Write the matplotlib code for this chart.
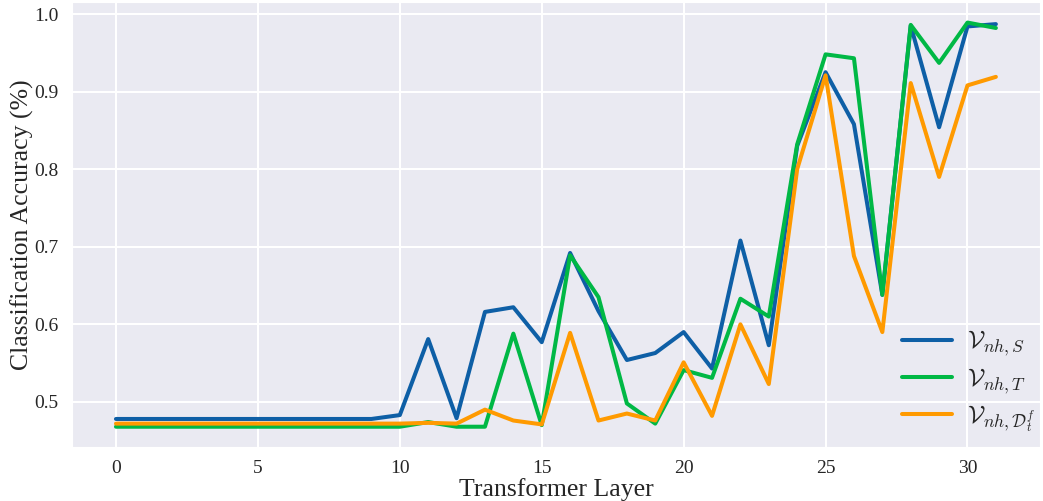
import matplotlib
matplotlib.use('Agg')
import matplotlib.pyplot as plt
import seaborn as sns
import numpy as np

layers = np.arange(32)
acc_s = [0.478] * 10 + [0.483, 0.581, 0.479, 0.616, 0.622, 0.577, 0.692, 0.617, 0.554, 0.563,
                        0.590, 0.543, 0.708, 0.573, 0.830, 0.925, 0.858, 0.638, 0.985, 0.854,
                        0.984, 0.987]
acc_t = [0.468] * 11 + [0.474, 0.468, 0.468, 0.588, 0.470, 0.689, 0.635, 0.498, 0.472,
                        0.541, 0.531, 0.633, 0.610, 0.832, 0.948, 0.943, 0.638, 0.986, 0.937,
                        0.989, 0.982]
acc_d = [0.472] * 11 + [0.473, 0.472, 0.490, 0.476, 0.471, 0.589, 0.476, 0.485, 0.476,
                        0.551, 0.482, 0.600, 0.523, 0.800, 0.921, 0.688, 0.590, 0.911, 0.790,
                        0.908, 0.919]
labels = [r'$\mathcal{V}_{nh,S}$', r'$\mathcal{V}_{nh,T}$', r'$\mathcal{V}_{nh,\mathcal{D}_t^f}$']
colors = ['#0e5fa6', '#00b845', '#ff9a00']

sns.set_style('darkgrid')
plt.rcParams['font.family'] = ['Liberation Serif', 'DejaVu Serif']
plt.rcParams['mathtext.fontset'] = 'cm'
plt.rcParams['grid.linewidth'] = 1.5

fig = plt.figure(figsize=(10.43, 5.01), dpi=100)
ax = fig.add_subplot()
for ys, lab, c in zip([acc_s, acc_t, acc_d], labels, colors):
    ax.plot(layers, ys, color=c, lw=2.9, label=lab)

ax.set_xlabel('Transformer Layer', fontsize=18.5, labelpad=1)
ax.set_ylabel('Classification Accuracy (%)', fontsize=18.5, labelpad=0)
ax.tick_params(labelsize=14, pad=6)
ax.set_xticks([0, 5, 10, 15, 20, 25, 30])
ax.set_ylim(0.442, 1.0155)
ax.legend(loc='lower right', bbox_to_anchor=(1.0, 0.018), frameon=False, fontsize=18,
          handlelength=2.0, borderaxespad=0.1, borderpad=0.1, labelspacing=0.3,
          handletextpad=0.6)

fig.subplots_adjust(left=0.069, right=0.997, top=0.996, bottom=0.108)
fig.savefig('out.png', dpi=100)
